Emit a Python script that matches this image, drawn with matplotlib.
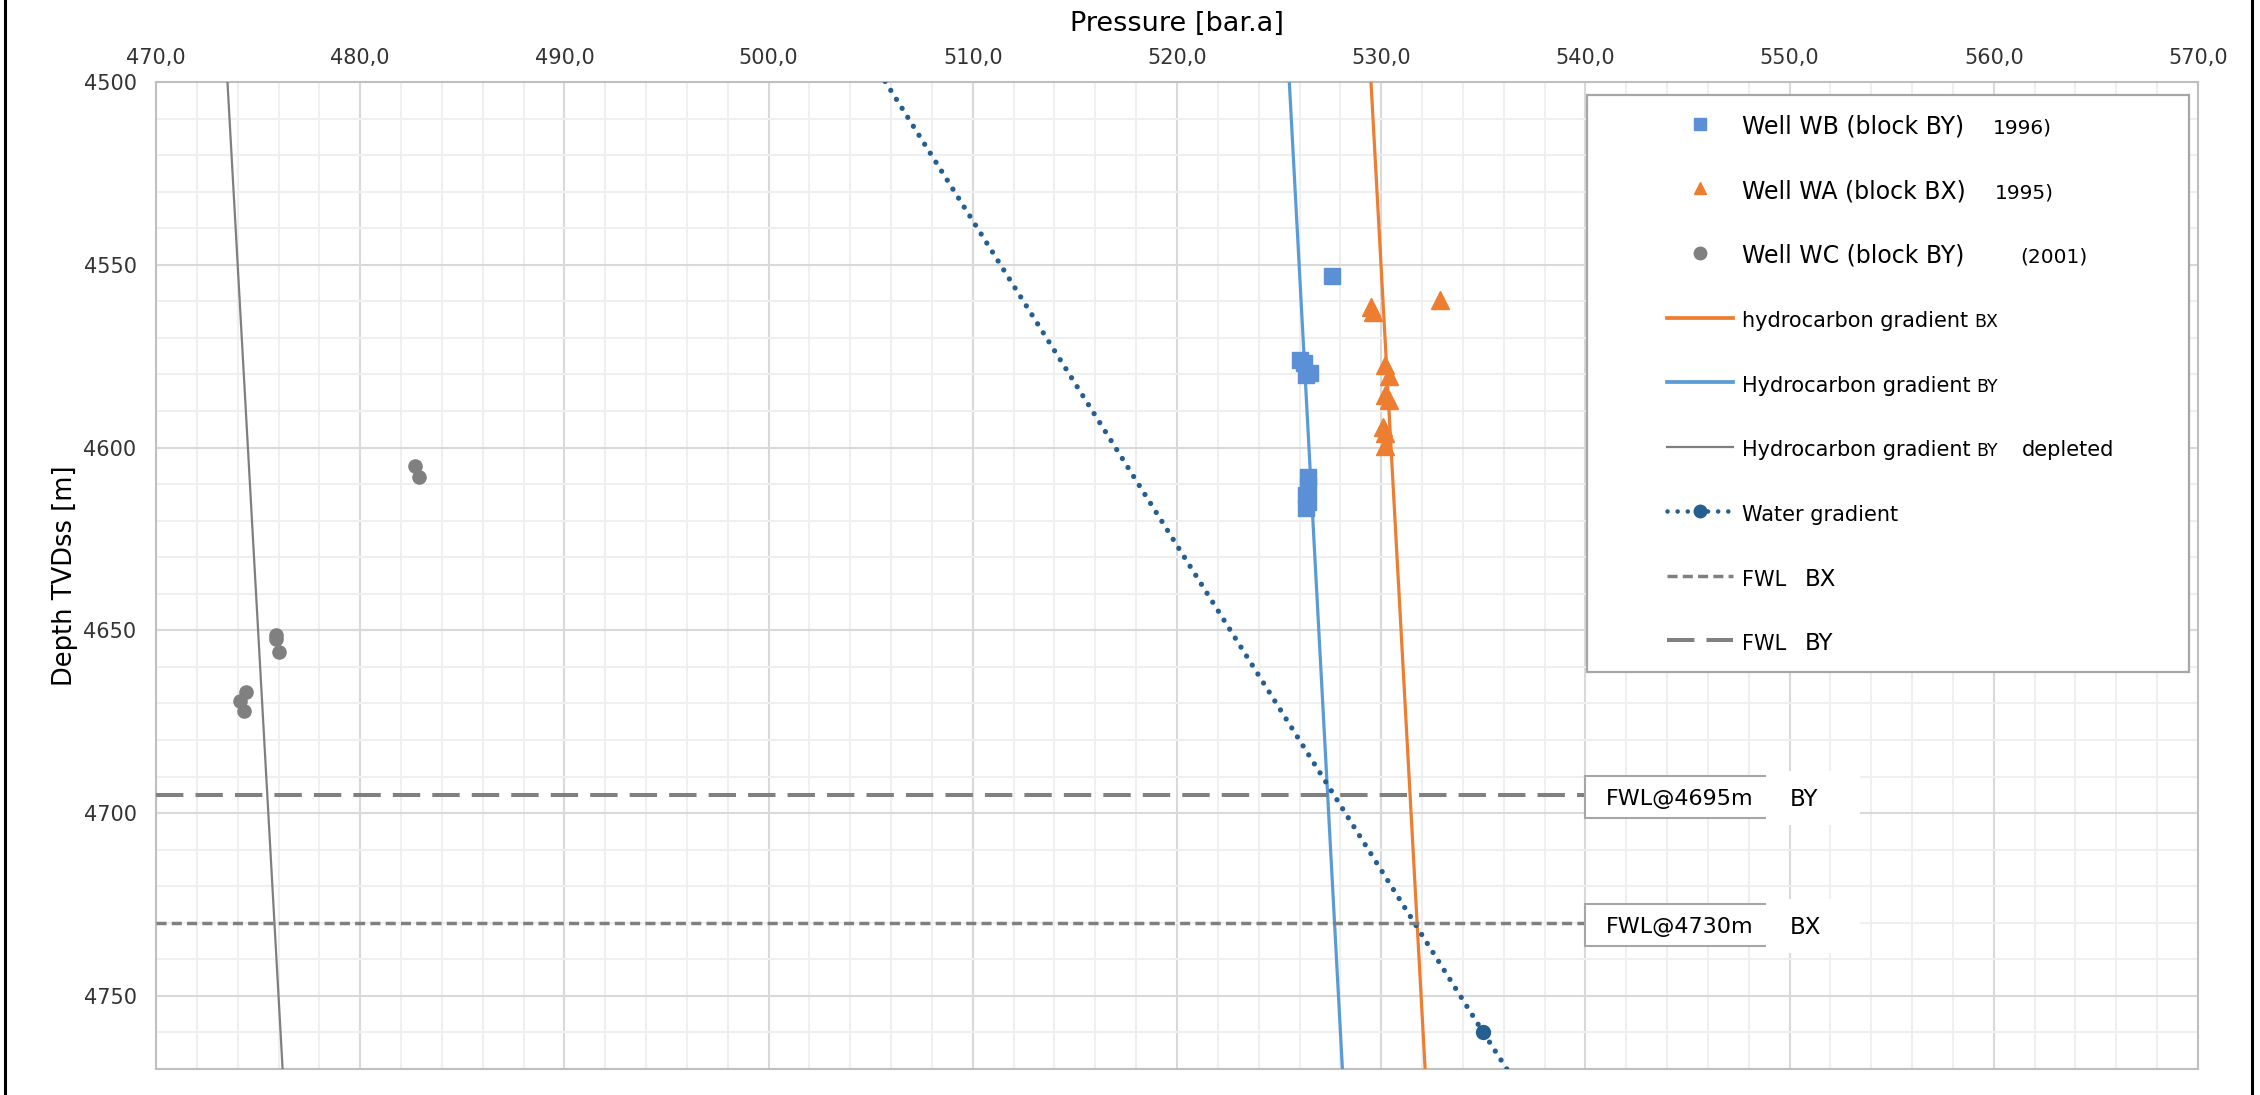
"""Pressure vs depth plot: RFT/MDT points of three wells with gradient lines and FWLs."""
import matplotlib; matplotlib.use("Agg")
import matplotlib.pyplot as plt
from matplotlib.lines import Line2D
from matplotlib.patches import Rectangle
from matplotlib.ticker import MultipleLocator, FuncFormatter

plt.rcParams["font.family"] = ["DejaVu Sans"]

# ---- data (pressure [bar.a], depth TVDss [m]) ----
wb_p = [527.6, 526.0, 526.2, 526.5, 526.3, 526.4, 526.4, 526.3, 526.4, 526.3]
wb_d = [4553.0, 4576.0, 4576.8, 4579.5, 4580.2, 4608.0, 4610.5, 4613.0, 4615.0, 4616.5]

wa_p = [532.9, 529.5, 529.6, 530.2, 530.4, 530.2, 530.4, 530.1, 530.2, 530.2]
wa_d = [4559.5, 4561.5, 4563.0, 4577.3, 4580.3, 4585.6, 4587.0, 4594.3, 4596.0, 4599.5]

wc_p = [482.7, 482.9, 475.9, 475.9, 476.0, 474.4, 474.1, 474.3]
wc_d = [4605.0, 4608.0, 4651.2, 4652.4, 4655.9, 4666.8, 4669.2, 4672.2]

grad_d = [4500.0, 4770.0]
hc_bx_p = [529.5, 532.15]
hc_by_p = [525.5, 528.1]
hc_dep_p = [473.5, 476.2]

water_p = [504.6, 535.0, 537.3]
water_d = [4490.0, 4760.0, 4780.0]

fwl_x = [470.0, 540.0]
fwl_bx = 4730
fwl_by = 4695

BLUE, SQ, ORANGE, GREY, WATER = "#5b9bd5", "#5b8fd6", "#ed7d31", "#808080", "#255e91"
W, H = 2260, 1095

fig = plt.figure(figsize=(W / 100, H / 100), dpi=100)
ax = fig.add_axes([156 / W, 1 - 1069 / H, 2042 / W, 987 / H])
ax.set_xlim(470, 570); ax.set_ylim(4770, 4500)
ax.xaxis.set_major_locator(MultipleLocator(10)); ax.xaxis.set_minor_locator(MultipleLocator(2))
ax.yaxis.set_major_locator(MultipleLocator(50)); ax.yaxis.set_minor_locator(MultipleLocator(10))
ax.xaxis.set_major_formatter(FuncFormatter(lambda v, _: f"{v:.1f}".replace(".", ",")))
ax.xaxis.tick_top(); ax.xaxis.set_label_position("top")
ax.tick_params(which="both", length=0, labelsize=15, labelcolor="#333333")
ax.tick_params(axis="x", pad=10); ax.tick_params(axis="y", pad=14)
ax.grid(which="major", color="#d9d9d9", lw=1.5)
ax.grid(which="minor", color="#efefef", lw=1.5)
ax.set_axisbelow(True)
for s in ax.spines.values():
    s.set_color("#bfbfbf"); s.set_linewidth(1.5)
ax.set_xlabel("Pressure [bar.a]", fontsize=19.5, labelpad=12)
ax.set_ylabel("Depth TVDss [m]", fontsize=18.5, labelpad=4)

# gradients
ax.plot(hc_bx_p, grad_d, color=ORANGE, lw=2.3, zorder=3)
ax.plot(hc_by_p, grad_d, color=BLUE, lw=2.3, zorder=3)
ax.plot(hc_dep_p, grad_d, color="#7f7f7f", lw=1.6, zorder=3)
ax.plot(water_p, water_d, color=WATER, lw=3.8, ls=(0, (0.01, 2)), dash_capstyle="round",
        marker="o", markevery=[1], ms=10, zorder=3)
ax.plot(fwl_x, [fwl_bx] * 2, color=GREY, lw=2.5, ls=(0, (2.9, 1.5)), zorder=3)
ax.plot(fwl_x, [fwl_by] * 2, color=GREY, lw=2.9, ls=(0, (6.8, 3.0)), zorder=3)

# pressure points
ax.plot(wb_p, wb_d, ls="none", marker="s", ms=12, color=SQ, zorder=4)
ax.plot(wa_p, wa_d, ls="none", marker="^", ms=13, color=ORANGE, zorder=4)
ax.plot(wc_p, wc_d, ls="none", marker="o", ms=9.5, color=GREY, zorder=4)

# FWL label boxes
for fwl, blk in [(fwl_by, "BY"), (fwl_bx, "BX")]:
    ax.add_patch(Rectangle((fwl_x[1], fwl - 5.2), 10, 11.5, fc="white", ec="#a6a6a6", lw=1.5, zorder=5))
    ax.text(fwl_x[1] + 0.98, fwl + 1.2, f"FWL@{fwl}m", fontsize=16, va="center", ha="left", zorder=6)
    ax.add_patch(Rectangle((548.85, fwl - 6.5), 4.6, 14.7, fc="white", ec="none", zorder=7))
    ax.text(550.0, fwl + 1.3, blk, fontsize=16.5, va="center", ha="left", zorder=8)

# legend
handles = [
    Line2D([], [], ls="none", marker="s", ms=8, color=SQ),
    Line2D([], [], ls="none", marker="^", ms=8.5, color=ORANGE),
    Line2D([], [], ls="none", marker="o", ms=9, color=GREY),
    Line2D([], [], color=ORANGE, lw=2.7),
    Line2D([], [], color=BLUE, lw=2.7),
    Line2D([], [], color="#7f7f7f", lw=1.6),
    Line2D([], [], color=WATER, lw=3.3, ls=(0, (0.01, 2.2)), dash_capstyle="round", marker="o", ms=9),
    Line2D([], [], color=GREY, lw=2.5, ls=(0, (2.9, 1.5))),
    Line2D([], [], color=GREY, lw=2.9, ls=(0, (6.8, 3.0))),
]
labels = ["Well WB (block BY)", "Well WA (block BX)", "Well WC (block BY)",
          "hydrocarbon gradient", "Hydrocarbon gradient", "Hydrocarbon gradient",
          "Water gradient", "FWL", "FWL"]
fig.add_artist(Rectangle((1587 / W, 1 - 672 / H), 602 / W, 577 / H, transform=fig.transFigure,
                         fc="white", ec="#a6a6a6", lw=1.6, zorder=5))
leg = fig.legend(handles, labels, loc="upper left", bbox_to_anchor=(1667 / W, 1 - 114 / H),
                 frameon=False, borderpad=0, borderaxespad=0, handlelength=3.17,
                 handleheight=1.5, handletextpad=0.43, labelspacing=1.88, fontsize=15,
                 numpoints=1)
leg.set_zorder(6)
for t in leg.get_texts()[:3]:
    t.set_fontsize(17)

fig.canvas.draw()
rend = fig.canvas.get_renderer()
texts = leg.get_texts()
# (row, text, size, x pixel or None for right after the label)
extras = [(0, "1996)", 14.5, 1993), (1, "1995)", 14.5, 1995), (2, "(2001)", 14.5, 2020),
          (3, "BX", 12.5, None), (4, "BY", 12.5, None), (5, "BY", 12.5, None),
          (5, "depleted", 15, 2022), (7, "BX", 16.5, 1805), (8, "BY", 16.5, 1805)]
for i, s, size, xp in extras:
    t = texts[i]
    bb = t.get_window_extent(rend)
    _, _, d = rend.get_text_width_height_descent("lp", t.get_fontproperties(), ismath=False)
    x = bb.x1 + 6 if xp is None else xp
    fig.text(x / W, (bb.y0 + d) / H, s, fontsize=size, va="baseline", ha="left", zorder=7)

# outer frame lines
for xp in (5, 2252):
    fig.add_artist(Line2D([xp / W] * 2, [0, 1], transform=fig.transFigure, color="black", lw=2.2, zorder=10))

fig.savefig("out.png", dpi=100)
